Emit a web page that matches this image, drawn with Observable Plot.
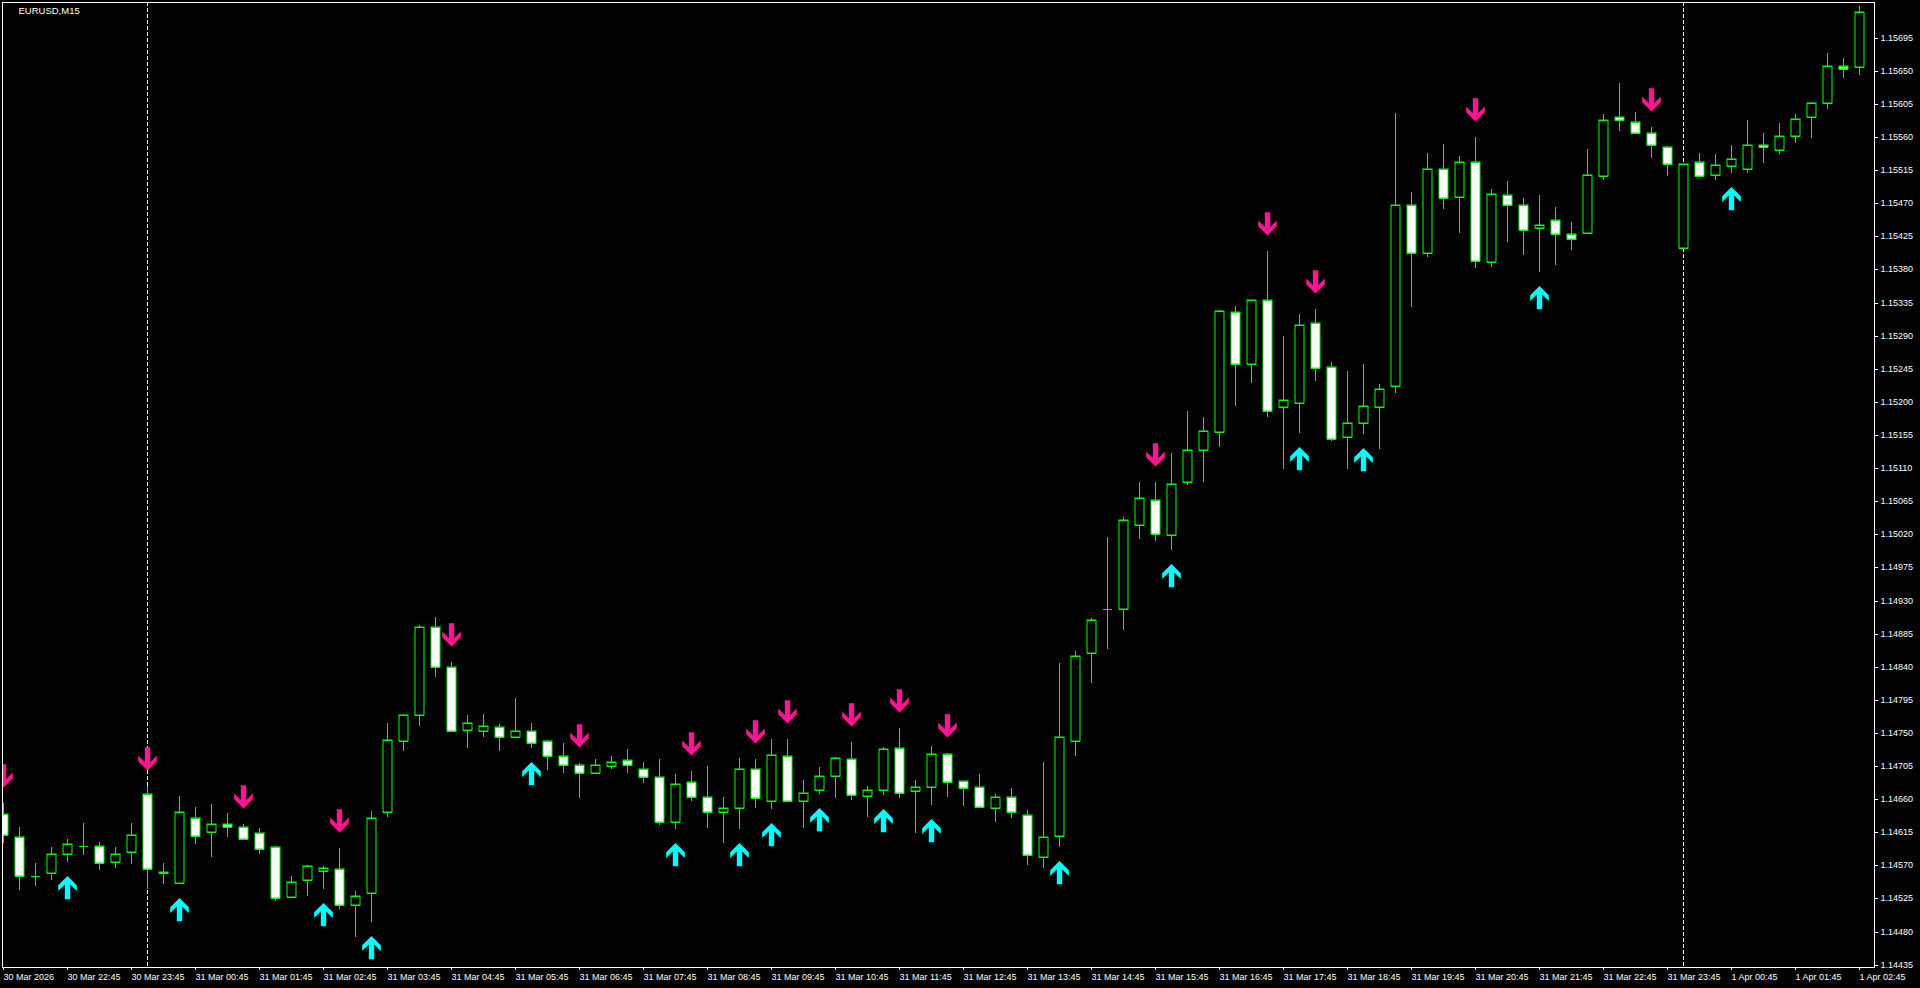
<!DOCTYPE html>
<html><head><meta charset="utf-8">
<script src="https://cdn.jsdelivr.net/npm/d3@7"></script>
<script src="https://cdn.jsdelivr.net/npm/@observablehq/plot@0.6"></script>
<style>html,body{margin:0;padding:0;background:#000;overflow:hidden}</style>
</head><body><div id="chart"></div>
<script>
const symbolName = "EURUSD,M15";

const xTickLabels = ["30 Mar 2026","30 Mar 22:45","30 Mar 23:45","31 Mar 00:45","31 Mar 01:45","31 Mar 02:45","31 Mar 03:45","31 Mar 04:45","31 Mar 05:45","31 Mar 06:45","31 Mar 07:45","31 Mar 08:45","31 Mar 09:45","31 Mar 10:45","31 Mar 11:45","31 Mar 12:45","31 Mar 13:45","31 Mar 14:45","31 Mar 15:45","31 Mar 16:45","31 Mar 17:45","31 Mar 18:45","31 Mar 19:45","31 Mar 20:45","31 Mar 21:45","31 Mar 22:45","31 Mar 23:45","1 Apr 00:45","1 Apr 01:45","1 Apr 02:45"];

const yTicks = [1.14435,1.14480,1.14525,1.14570,1.14615,1.14660,1.14705,1.14750,1.14795,1.14840,1.14885,1.14930,1.14975,1.15020,1.15065,1.15110,1.15155,1.15200,1.15245,1.15290,1.15335,1.15380,1.15425,1.15470,1.15515,1.15560,1.15605,1.15650,1.15695];

const open = [
1.14640,1.14609,1.14556,1.14559,1.14585,1.14596,1.14597,1.14574,1.14588,1.14667,
1.14560,1.14546,1.14634,1.14616,1.14626,1.14622,1.14614,1.14595,1.14527,1.14550,
1.14562,1.14565,1.14516,1.14533,1.14643,1.14739,1.14774,1.14894,1.14839,1.14754,
1.14752,1.14758,1.14745,1.14752,1.14739,1.14718,1.14707,1.14696,1.14705,1.14713,
1.14701,1.14690,1.14629,1.14683,1.14663,1.14642,1.14648,1.14701,1.14658,1.14718,
1.14658,1.14672,1.14691,1.14715,1.14664,1.14673,1.14729,1.14671,1.14677,1.14722,
1.14684,1.14676,1.14648,1.14663,1.14639,1.14582,1.14610,1.14739,1.14858,1.14918,
1.14919,1.15032,1.15066,1.15019,1.15091,1.15135,1.15159,1.15322,1.15251,1.15339,
1.15193,1.15199,1.15307,1.15248,1.15152,1.15171,1.15193,1.15222,1.15467,1.15403,
1.15516,1.15478,1.15526,1.15390,1.15481,1.15467,1.15436,1.15447,1.15428,1.15429,
1.15507,1.15587,1.15581,1.15566,1.15547,1.15409,1.15526,1.15509,1.15520,1.15517,
1.15549,1.15542,1.15561,1.15587,1.15606,1.15656,1.15655];

const high = [
1.14655,1.14622,1.14573,1.14595,1.14606,1.14628,1.14602,1.14595,1.14628,1.14678,
1.14573,1.14664,1.14649,1.14653,1.14641,1.14626,1.14621,1.14596,1.14556,1.14570,
1.14569,1.14594,1.14535,1.14644,1.14763,1.14776,1.14897,1.14908,1.14846,1.14774,
1.14776,1.14762,1.14797,1.14763,1.14741,1.14736,1.14709,1.14714,1.14719,1.14728,
1.14711,1.14714,1.14694,1.14698,1.14705,1.14663,1.14716,1.14714,1.14742,1.14742,
1.14686,1.14704,1.14717,1.14738,1.14678,1.14731,1.14757,1.14686,1.14732,1.14723,
1.14685,1.14694,1.14667,1.14675,1.14645,1.14711,1.14845,1.14861,1.14906,1.15016,
1.15044,1.15091,1.15091,1.15130,1.15187,1.15179,1.15325,1.15330,1.15339,1.15405,
1.15290,1.15319,1.15326,1.15254,1.15242,1.15252,1.15224,1.15592,1.15485,1.15538,
1.15550,1.15534,1.15560,1.15489,1.15500,1.15477,1.15481,1.15465,1.15444,1.15544,
1.15591,1.15633,1.15594,1.15573,1.15548,1.15524,1.15538,1.15537,1.15549,1.15583,
1.15566,1.15579,1.15591,1.15607,1.15674,1.15668,1.15738];

const low = [
1.14601,1.14537,1.14542,1.14550,1.14574,1.14584,1.14564,1.14567,1.14572,1.14538,
1.14544,1.14545,1.14599,1.14582,1.14608,1.14605,1.14586,1.14522,1.14526,1.14529,
1.14538,1.14511,1.14472,1.14493,1.14636,1.14726,1.14760,1.14826,1.14751,1.14730,
1.14745,1.14726,1.14744,1.14730,1.14700,1.14696,1.14661,1.14695,1.14701,1.14695,
1.14682,1.14625,1.14620,1.14658,1.14621,1.14601,1.14620,1.14648,1.14647,1.14657,
1.14621,1.14667,1.14662,1.14659,1.14636,1.14666,1.14662,1.14614,1.14652,1.14663,
1.14651,1.14648,1.14629,1.14635,1.14571,1.14567,1.14595,1.14718,1.14818,1.14864,
1.14890,1.15014,1.15011,1.14998,1.15087,1.15091,1.15139,1.15195,1.15226,1.15180,
1.15109,1.15158,1.15229,1.15147,1.15109,1.15157,1.15136,1.15212,1.15329,1.15397,
1.15462,1.15429,1.15382,1.15383,1.15417,1.15399,1.15376,1.15386,1.15407,1.15428,
1.15502,1.15568,1.15564,1.15531,1.15507,1.15408,1.15506,1.15502,1.15511,1.15511,
1.15525,1.15537,1.15552,1.15559,1.15598,1.15640,1.15644];

const close = [
1.14611,1.14556,1.14556,1.14586,1.14599,1.14597,1.14573,1.14586,1.14611,1.14565,
1.14561,1.14643,1.14610,1.14626,1.14622,1.14606,1.14592,1.14525,1.14548,1.14569,
1.14566,1.14516,1.14529,1.14635,1.14741,1.14774,1.14894,1.14839,1.14752,1.14763,
1.14759,1.14745,1.14752,1.14737,1.14718,1.14707,1.14696,1.14706,1.14711,1.14706,
1.14690,1.14629,1.14680,1.14663,1.14643,1.14648,1.14701,1.14661,1.14720,1.14658,
1.14668,1.14691,1.14716,1.14665,1.14673,1.14728,1.14669,1.14677,1.14721,1.14683,
1.14675,1.14649,1.14663,1.14642,1.14584,1.14608,1.14744,1.14854,1.14904,1.14919,
1.15039,1.15070,1.15020,1.15088,1.15135,1.15160,1.15323,1.15252,1.15338,1.15187,
1.15202,1.15304,1.15246,1.15149,1.15171,1.15194,1.15218,1.15467,1.15402,1.15516,
1.15477,1.15526,1.15391,1.15482,1.15468,1.15433,1.15440,1.15428,1.15422,1.15508,
1.15583,1.15583,1.15565,1.15549,1.15523,1.15523,1.15507,1.15522,1.15530,1.15549,
1.15546,1.15562,1.15584,1.15606,1.15656,1.15653,1.15730];

// bar indices carrying indicator arrows
const sellSignals = [0,9,15,21,28,36,43,47,49,53,56,59,72,79,82,92,103];
const buySignals  = [4,11,20,23,33,42,46,48,51,55,58,66,73,81,85,96,108];
// bars opening a new trading day (period separators)
const dayStarts = [9,105];

const candles = open.map((o, i) => ({i, open: o, high: high[i], low: low[i], close: close[i]}));
const bulls = candles.filter(d => d.close > d.open);
const bears = candles.filter(d => d.close <= d.open);
const HALF = 0.28;
const LIME = "#00ff00";

const arrowDown = {draw(ctx) {
  ctx.moveTo(0, 0); ctx.lineTo(9.3, -9.3); ctx.lineTo(9.3, -15); ctx.lineTo(2.7, -8.4);
  ctx.lineTo(2.7, -23.3); ctx.lineTo(-2.7, -23.3); ctx.lineTo(-2.7, -8.4);
  ctx.lineTo(-9.3, -15); ctx.lineTo(-9.3, -9.3); ctx.closePath();
}};
const arrowUp = {draw(ctx) {
  ctx.moveTo(0, 0); ctx.lineTo(9.3, 9.3); ctx.lineTo(9.3, 15); ctx.lineTo(2.7, 8.4);
  ctx.lineTo(2.7, 23.3); ctx.lineTo(-2.7, 23.3); ctx.lineTo(-2.7, 8.4);
  ctx.lineTo(-9.3, 15); ctx.lineTo(-9.3, 9.3); ctx.closePath();
}};

const chart = Plot.plot({
  width: 1920, height: 988,
  marginLeft: 2, marginTop: 2, marginRight: 46, marginBottom: 21,
  style: {background: "#000", color: "#fff", fontFamily: "'Liberation Sans', Arial, sans-serif", fontSize: "9px"},
  x: {domain: [-0.08125, 116.91875], round: true},
  y: {domain: [1.1443186, 1.1574352], round: true},
  marks: [
    Plot.ruleX(dayStarts, {x: d => d, stroke: "#fff", strokeDasharray: "4,2"}),
    Plot.ruleX(candles, {x: "i", y1: "low", y2: "high", stroke: LIME, clip: true}),
    Plot.rect(bulls, {x1: d => d.i - HALF, x2: d => d.i + HALF, y1: "open", y2: "close", fill: "#000", stroke: LIME, clip: true}),
    Plot.rect(bears, {x1: d => d.i - HALF, x2: d => d.i + HALF, y1: "open", y2: "close", fill: "#fff", stroke: LIME, clip: true}),
    Plot.ruleY(candles, {y: "open", x1: d => d.i - HALF, x2: d => d.i + HALF, stroke: LIME, clip: true}),
    Plot.ruleY(candles, {y: "close", x1: d => d.i - HALF, x2: d => d.i + HALF, stroke: LIME, clip: true}),
    Plot.dot(sellSignals, {x: d => d, y: d => high[d], symbol: arrowDown, r: 5, fill: "#ff1493", dy: -16, clip: true}),
    Plot.dot(buySignals, {x: d => d, y: d => low[d], symbol: arrowUp, r: 5, fill: "#00ffff", dy: 13.5, clip: true}),
    Plot.frame({stroke: "#fff"}),
    Plot.axisX({ticks: xTickLabels.map((_, k) => k * 4), tickFormat: d => xTickLabels[d / 4], tickSize: 3, tickPadding: 3, textAnchor: "start", label: null}),
    Plot.axisY({anchor: "right", ticks: yTicks, tickFormat: d => d.toFixed(5), tickSize: 3, tickPadding: 3, label: null}),
    Plot.text([symbolName], {frameAnchor: "top-left", dx: 16, dy: 4.5, fill: "#fff", fontSize: 9.5, textAnchor: "start", lineAnchor: "top"})
  ]
});
document.getElementById("chart").appendChild(chart);
</script>
</body></html>
